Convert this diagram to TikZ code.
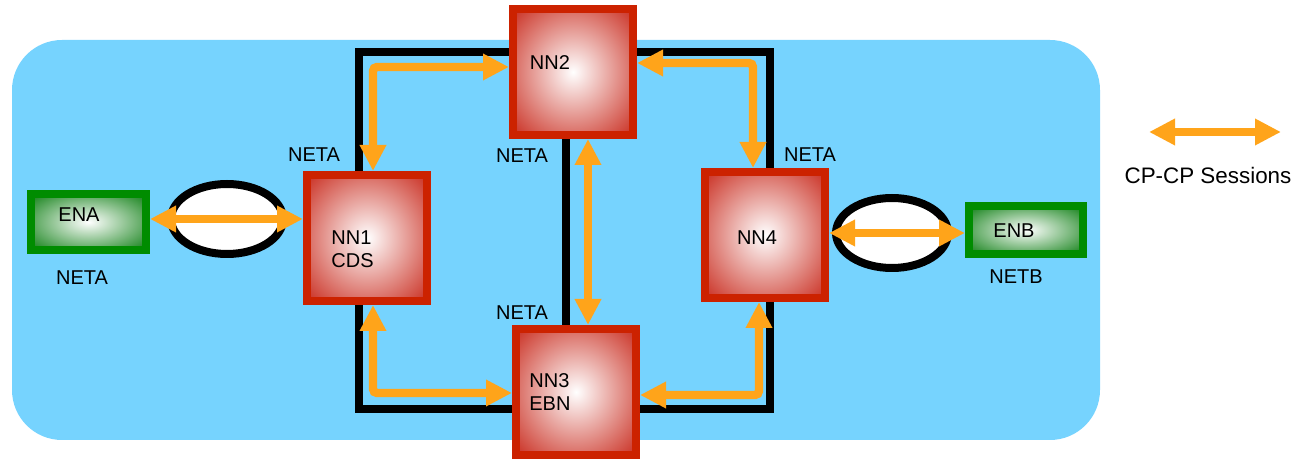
\documentclass[tikz,border=0pt]{standalone}
\usepackage{fontspec}
\setmainfont{Liberation Sans}
\usetikzlibrary{positioning,calc}
\usetikzlibrary{arrows.meta,shapes.geometric,backgrounds}
\definecolor{SkyBlue}{RGB}{118,211,254}
\definecolor{NodeRed}{RGB}{204,34,0}
\definecolor{ShadeRed}{RGB}{205,60,48}
\definecolor{NodeGreen}{RGB}{0,140,0}
\definecolor{ShadeGreen}{RGB}{30,135,35}
\definecolor{SessOrange}{RGB}{255,164,26}
\pgfdeclareradialshading{nnglow}{\pgfpoint{0bp}{0bp}}{color(0bp)=(white); color(33bp)=(ShadeRed); color(75bp)=(ShadeRed)}
\pgfdeclareradialshading{englow}{\pgfpoint{0bp}{0bp}}{color(0bp)=(white); color(33bp)=(ShadeGreen); color(75bp)=(ShadeGreen)}
\tikzset{
  nn/.style={draw=NodeRed,line width=4pt,shading=nnglow,minimum width=60pt,minimum height=63pt,inner sep=0pt},
  en/.style={draw=NodeGreen,line width=4pt,shading=englow,inner sep=0pt},
  lk/.style={ellipse,draw=black,line width=4pt,fill=white,minimum width=56pt,minimum height=35pt,inner sep=0pt},
  link/.style={draw=black,line width=4pt},
  sess/.style={draw=SessOrange,line width=4.2pt,>={Triangle[length=13pt,width=12.5pt]},<->,rounded corners=2pt},
}
\tikzset{txt/.style={font=\fontsize{10}{11.5}\selectfont,inner sep=0pt}, leg/.style={font=\fontsize{11.2}{13}\selectfont,inner sep=0pt}}

\begin{document}
\begin{tikzpicture}[x=0.5pt,y=-0.5pt]
\useasboundingbox (0,0) rectangle (1298,459);
% corners of the links and sessions
\coordinate (tl) at (359,52);
\coordinate (tr) at (770,52);
\coordinate (bl) at (359,409);
\coordinate (br) at (770,409);
\coordinate (mid) at (566,0);
\coordinate (s12) at (373,67);
\coordinate (s24) at (753,63);
\coordinate (s13) at (373,393);
\coordinate (s34) at (759,395);
\coordinate (s23) at (588,0);
\node[nn] (nn1) at (367,238) {};
\node[nn] (nn2) at (573,72) {};
\node[nn] (nn3) at (576,392) {};
\node[nn] (nn4) at (765,235) {};
\node[en,minimum width=57.5pt,minimum height=28pt] (ena) at (88.5,222) {};
\node[en,minimum width=57pt,minimum height=24pt] (enb) at (1026,230) {};
\node[lk] (lka) at (227,219) {};
\node[lk] (lkb) at (892,233) {};
\begin{scope}[on background layer]
\fill[SkyBlue,rounded corners=25pt] (12,40) rectangle (1100,440);
\draw[link] (nn1.north -| tl) -- (tl) -- (tl -| nn2.west);
\draw[link] (nn2.east |- tr) -- (tr) -- (tr |- nn4.north);
\draw[link] (nn1.south -| bl) -- (bl) -- (bl -| nn3.west);
\draw[link] (nn3.east |- br) -- (br) -- (br |- nn4.south);
\draw[link] (nn2.south -| mid) -- (nn3.north -| mid);
\end{scope}
\draw[sess] (nn1.north -| s12) -- (s12) -- (s12 -| nn2.west);
\draw[sess] (nn2.east |- s24) -- (s24) -- (s24 |- nn4.north);
\draw[sess] (nn1.south -| s13) -- (s13) -- (s13 -| nn3.west);
\draw[sess] (nn3.east |- s34) -- (s34) -- (s34 |- nn4.south);
\draw[sess] (nn2.south -| s23) -- (nn3.north -| s23);
\draw[sess] (ena.east |- lka) -- (nn1.west |- lka);
\draw[sess] (nn4.east |- lkb) -- (enb.west |- lkb);
\node[txt] (t2) at (550,63) {NN2};
\node[txt] (t4) at (757,238) {NN4};
\node[txt,align=left,anchor=west] (t1) at (331,249) {NN1\\CDS};
\node[txt,align=left,anchor=west] (t3) at (529,392) {NN3\\EBN};
\node[txt] (ta) at (79,215) {ENA};
\node[txt] (tb) at (1014,231) {ENB};
\node[txt] (na1) at (314,155) {NETA};
\node[txt] (na2) at (522,156) {NETA};
\node[txt] (na3) at (810,155) {NETA};
\node[txt] (na4) at (82,278) {NETA};
\node[txt] (na5) at (522,313) {NETA};
\node[txt] (nb) at (1016,277) {NETB};
% legend
\coordinate (lga) at (1149,132);
\coordinate (lgb) at (1281,132);
\draw[sess] (lga) -- (lgb);
\node[leg] (lgt) at (1208,175) {CP-CP Sessions};
\end{tikzpicture}
\end{document}
